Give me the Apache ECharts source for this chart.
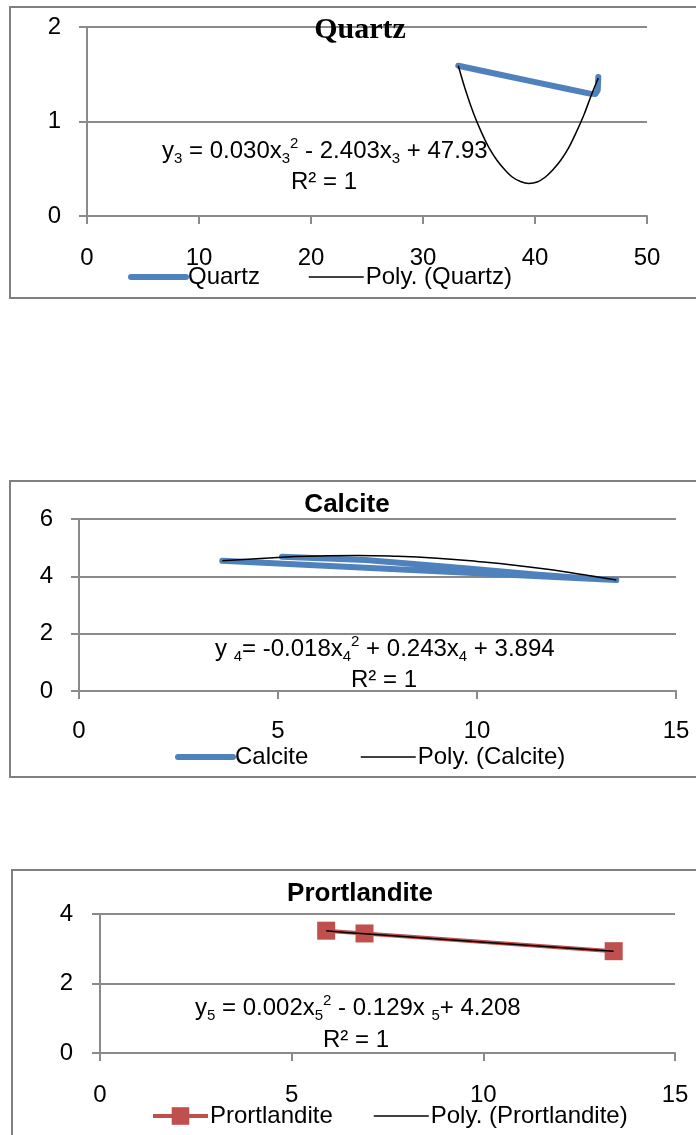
<!DOCTYPE html>
<html><head><meta charset="utf-8">
<script src="https://cdn.jsdelivr.net/npm/echarts@6/dist/echarts.min.js"></script>
<style>html,body{margin:0;padding:0;background:#fff}#c{width:696px;height:1135px}</style>
</head><body><div id="c"></div>
<script>
// ---------- data ----------
const quartzX = [33.15, 36.5, 39.5, 42.5, 44.9, 45.4, 45.6, 45.65];
const quartzY = [1.59, 1.505, 1.43, 1.355, 1.295, 1.29, 1.33, 1.47];
const quartzPolyX = [33.15, 33.8, 34.5, 35.2, 35.9, 36.6, 37.3, 38.0, 38.7, 39.45, 40.2, 40.9, 41.6, 42.3, 43.0, 43.7, 44.4, 45.0, 45.65];
const quartzPolyY = [1.59, 1.33, 1.09, 0.89, 0.72, 0.59, 0.49, 0.41, 0.365, 0.345, 0.36, 0.41, 0.49, 0.59, 0.72, 0.89, 1.08, 1.27, 1.46];

const calciteX = [5.1, 7.2, 9.7, 11.4, 12.7, 13.5, 3.6];
const calciteY = [4.68, 4.57, 4.28, 4.07, 3.93, 3.87, 4.54];
const calcitePolyX = [3.6, 5.1, 6.0, 7.0, 8.0, 9.0, 10.0, 11.0, 12.0, 12.8, 13.5];
const calcitePolyY = [4.54, 4.67, 4.71, 4.73, 4.70, 4.63, 4.52, 4.38, 4.20, 4.03, 3.87];

const portX = [5.9, 6.9, 13.4];
const portY = [3.52, 3.44, 2.93];
const portPolyX = [5.9, 6.9, 10.4, 13.4];
const portPolyY = [3.52, 3.43, 3.16, 2.93];

const quartzXTicks = [0, 50, 10];   // min, max, interval
const quartzYTicks = [0, 2, 1];
const calciteXTicks = [0, 15, 5];
const calciteYTicks = [0, 6, 2];
const portXTicks = [0, 15, 5];
const portYTicks = [0, 4, 2];

const titles = ['Quartz', 'Calcite', 'Prortlandite'];
const seriesNames = ['Quartz', 'Poly. (Quartz)', 'Calcite', 'Poly. (Calcite)', 'Prortlandite', 'Poly. (Prortlandite)'];
// -------------------------------------------------

const FONT = '"Liberation Sans", Arial, sans-serif';
const GRAY = '#8a8a8a';
const BLUE = '#4F81BD';
const RED = '#C0504D';
const zip = (xs, ys) => xs.map((x, i) => [x, ys[i]]);

function xAx(gi, t, margin) {
  return {
    type: 'value', gridIndex: gi, min: t[0], max: t[1], interval: t[2],
    axisLine: {show: true, onZero: false, lineStyle: {color: GRAY, width: 2}},
    axisTick: {show: true, inside: false, length: 8, lineStyle: {color: GRAY, width: 2}},
    splitLine: {show: false},
    axisLabel: {margin: margin, color: '#000', fontSize: 24, fontFamily: FONT}
  };
}
function yAx(gi, t, margin) {
  return {
    type: 'value', gridIndex: gi, min: t[0], max: t[1], interval: t[2],
    axisLine: {show: true, onZero: false, lineStyle: {color: GRAY, width: 2}},
    axisTick: {show: true, inside: false, length: 8, lineStyle: {color: GRAY, width: 2}},
    splitLine: {show: true, lineStyle: {color: GRAY, width: 2}},
    axisLabel: {margin: margin, color: '#000', fontSize: 24, fontFamily: FONT}
  };
}
function leg(name, left, top, opts) {
  return Object.assign({
    data: [name], left: left, top: top, padding: 0, itemWidth: 55, itemHeight: 6,
    selectedMode: false,
    textStyle: {fontSize: 24, fontFamily: FONT, color: '#000', padding: [0, 0, 0, -3]}
  }, opts);
}
const richStyles = {
  b: {fontSize: 24, fontFamily: FONT, color: '#000', lineHeight: 30},
  sub: {fontSize: 15, fontFamily: FONT, color: '#000', lineHeight: 15, verticalAlign: 'bottom'},
  sup: {fontSize: 15, fontFamily: FONT, color: '#000', lineHeight: 15, verticalAlign: 'top'}
};
function eqText(left, cy, text) {
  return {type: 'text', left: left, top: cy - 15, z: 10,
    style: {text: text, rich: richStyles, fill: '#000'}};
}
function centerText(cx, cy, text, font) {
  return {type: 'text', x: cx, y: cy, z: 10,
    style: Object.assign({text: text, fill: '#000', textAlign: 'center', textVerticalAlign: 'middle'}, font)};
}
function frame(x, y, w, h) {
  return {type: 'rect', shape: {x: x, y: y, width: w, height: h}, z: 0,
    style: {fill: 'none', stroke: '#7f7f7f', lineWidth: 2}};
}
const noSym = {itemStyle: {opacity: 0}};

const chart = echarts.init(document.getElementById('c'), null, {renderer: 'canvas'});
chart.setOption({
  animation: false,
  backgroundColor: '#fff',
  grid: [
    {left: 87, top: 27, width: 560, height: 189},
    {left: 79, top: 519, width: 597, height: 172},
    {left: 100, top: 914, width: 575, height: 139}
  ],
  xAxis: [xAx(0, quartzXTicks, 30), xAx(1, calciteXTicks, 28), xAx(2, portXTicks, 30)],
  yAxis: [yAx(0, quartzYTicks, 26), yAx(1, calciteYTicks, 26), yAx(2, portYTicks, 27)],
  legend: [
    leg(seriesNames[0], 128, 265, Object.assign({itemHeight: 8, lineStyle: {width: 6, cap: 'round'}}, noSym)),
    leg(seriesNames[1], 308, 265, Object.assign({lineStyle: {width: 1.5}}, noSym)),
    leg(seriesNames[2], 175, 745, Object.assign({itemHeight: 8, lineStyle: {width: 6, cap: 'round'}}, noSym)),
    leg(seriesNames[3], 360, 745, Object.assign({lineStyle: {width: 1.5}}, noSym)),
    leg(seriesNames[4], 151, 1104, {itemWidth: 55, itemHeight: 22, lineStyle: {width: 4}}),
    leg(seriesNames[5], 373, 1104, Object.assign({lineStyle: {width: 1.5}}, noSym))
  ],
  series: [
    {name: seriesNames[0], type: 'line', xAxisIndex: 0, yAxisIndex: 0, data: zip(quartzX, quartzY),
     symbol: 'none', smooth: false, z: 2,
     lineStyle: {color: BLUE, width: 6, cap: 'round', join: 'round'}, itemStyle: {color: BLUE}},
    {name: seriesNames[1], type: 'line', xAxisIndex: 0, yAxisIndex: 0, data: zip(quartzPolyX, quartzPolyY),
     symbol: 'none', smooth: 0.3, z: 3,
     lineStyle: {color: '#000', width: 1.5}, itemStyle: {color: '#000'}},
    {name: seriesNames[2], type: 'line', xAxisIndex: 1, yAxisIndex: 1, data: zip(calciteX, calciteY),
     symbol: 'none', smooth: false, z: 2,
     lineStyle: {color: BLUE, width: 6, cap: 'round', join: 'round'}, itemStyle: {color: BLUE}},
    {name: seriesNames[3], type: 'line', xAxisIndex: 1, yAxisIndex: 1, data: zip(calcitePolyX, calcitePolyY),
     symbol: 'none', smooth: true, z: 3,
     lineStyle: {color: '#000', width: 1.5}, itemStyle: {color: '#000'}},
    {name: seriesNames[4], type: 'line', xAxisIndex: 2, yAxisIndex: 2, data: zip(portX, portY),
     symbol: 'rect', symbolSize: 18, smooth: false, z: 2,
     lineStyle: {color: RED, width: 4}, itemStyle: {color: RED}},
    {name: seriesNames[5], type: 'line', xAxisIndex: 2, yAxisIndex: 2, data: zip(portPolyX, portPolyY),
     symbol: 'none', smooth: true, z: 3,
     lineStyle: {color: '#000', width: 1.5}, itemStyle: {color: '#000'}}
  ],
  graphic: [
    frame(10, 7, 700, 291),
    frame(10, 481, 700, 296),
    frame(12, 870, 700, 300),
    centerText(360, 30, titles[0], {fontSize: 30, fontWeight: 'bold', fontFamily: '"Liberation Serif", "Times New Roman", serif'}),
    centerText(347, 505, titles[1], {fontSize: 26, fontWeight: 'bold', fontFamily: FONT}),
    centerText(360, 894, titles[2], {fontSize: 26, fontWeight: 'bold', fontFamily: FONT}),
    eqText(162, 151, '{b|y}{sub|3}{b| = 0.030x}{sub|3}{sup|2}{b| - 2.403x}{sub|3}{b| + 47.93}'),
    centerText(324, 182, 'R² = 1', {fontSize: 24, fontFamily: FONT}),
    eqText(215, 649, '{b|y }{sub|4}{b|= -0.018x}{sub|4}{sup|2}{b| + 0.243x}{sub|4}{b| + 3.894}'),
    centerText(384, 680, 'R² = 1', {fontSize: 24, fontFamily: FONT}),
    eqText(195, 1008, '{b|y}{sub|5}{b| = 0.002x}{sub|5}{sup|2}{b| - 0.129x }{sub|5}{b|+ 4.208}'),
    centerText(356, 1040, 'R² = 1', {fontSize: 24, fontFamily: FONT})
  ]
});
</script></body></html>
